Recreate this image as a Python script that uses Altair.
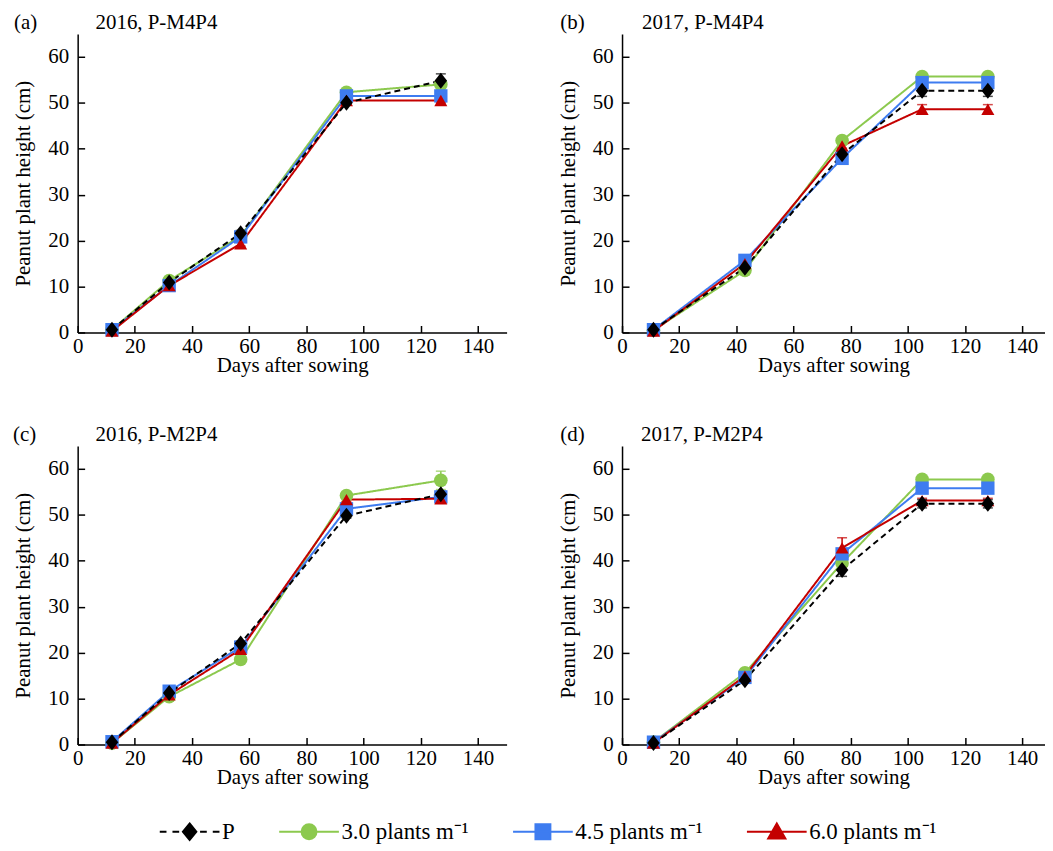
import altair as alt
import pandas as pd

FONT = "Liberation Serif"

# the en space before "P" reproduces the wider gap after the dashed legend symbol
SERIES = ["\u2002P", "3.0 plants m⁻¹", "4.5 plants m⁻¹", "6.0 plants m⁻¹"]
COLORS = ["#000000", "#8cc94e", "#3e7cf0", "#c40000"]
DRAW_ORDER = [1, 2, 3, 0]  # green, blue, red, then P on top

X_TICKS = [0, 20, 40, 60, 80, 100, 120, 140]
Y_TICKS = [0, 10, 20, 30, 40, 50, 60]

DAYS_2016 = [12, 32, 57, 94, 127]
DAYS_2017 = [11, 43, 77, 105, 128]

# (a) 2016, P-M4P4
A_P = [0.6, 10.9, 21.6, 50.0, 54.8]
A_G = [0.6, 11.3, 21.0, 52.3, 54.0]
A_B = [0.6, 10.2, 20.8, 51.5, 51.5]
A_R = [0.3, 10.2, 19.3, 50.5, 50.5]
A_P_ERR = [0.2, 0.4, 0.6, 0.5, 1.5]
A_G_ERR = [0.2, 0.4, 0.5, 0.5, 0.6]
A_B_ERR = [0.2, 0.4, 0.5, 0.5, 0.5]
A_R_ERR = [0.2, 0.4, 0.5, 0.5, 0.5]

# (b) 2017, P-M4P4
B_P = [0.6, 14.1, 38.8, 52.6, 52.6]
B_G = [0.5, 13.5, 41.8, 55.7, 55.7]
B_B = [0.6, 15.7, 37.9, 54.4, 54.4]
B_R = [0.3, 15.0, 40.6, 48.6, 48.6]
B_P_ERR = [0.2, 0.4, 0.6, 1.2, 1.2]
B_G_ERR = [0.2, 0.4, 0.5, 0.5, 0.5]
B_B_ERR = [0.2, 0.4, 0.5, 0.5, 0.5]
B_R_ERR = [0.2, 0.4, 0.5, 1.0, 1.0]

# (c) 2016, P-M2P4
C_P = [0.5, 11.2, 22.0, 49.8, 54.5]
C_G = [0.3, 10.4, 18.5, 54.2, 57.5]
C_B = [0.6, 11.6, 21.2, 51.3, 53.9]
C_R = [0.3, 10.8, 20.7, 53.3, 53.5]
C_P_ERR = [0.2, 0.4, 0.5, 0.5, 0.6]
C_G_ERR = [0.2, 0.4, 0.5, 0.6, 2.0]
C_B_ERR = [0.2, 0.4, 0.5, 0.5, 0.5]
C_R_ERR = [0.2, 0.4, 0.5, 0.5, 0.5]

# (d) 2017, P-M2P4
D_P = [0.3, 14.0, 38.0, 52.4, 52.4]
D_G = [0.5, 15.6, 39.5, 57.7, 57.7]
D_B = [0.5, 14.6, 41.5, 55.8, 55.8]
D_R = [0.3, 14.9, 42.8, 53.1, 53.1]
D_P_ERR = [0.2, 0.4, 1.4, 0.9, 0.9]
D_G_ERR = [0.2, 0.4, 0.6, 0.5, 0.5]
D_B_ERR = [0.2, 0.4, 0.6, 0.5, 0.5]
D_R_ERR = [0.2, 0.4, 2.2, 0.5, 0.5]

PANELS = {
    "a": ("(a)", "2016, P-M4P4", DAYS_2016, [A_P, A_G, A_B, A_R], [A_P_ERR, A_G_ERR, A_B_ERR, A_R_ERR]),
    "b": ("(b)", "2017, P-M4P4", DAYS_2017, [B_P, B_G, B_B, B_R], [B_P_ERR, B_G_ERR, B_B_ERR, B_R_ERR]),
    "c": ("(c)", "2016, P-M2P4", DAYS_2016, [C_P, C_G, C_B, C_R], [C_P_ERR, C_G_ERR, C_B_ERR, C_R_ERR]),
    "d": ("(d)", "2017, P-M2P4", DAYS_2017, [D_P, D_G, D_B, D_R], [D_P_ERR, D_G_ERR, D_B_ERR, D_R_ERR]),
}

DIAMOND = "M0,-1.15L0.9,0L0,1.15L-0.9,0Z"
color_scale = alt.Scale(domain=SERIES, range=COLORS)
shape_scale = alt.Scale(domain=SERIES, range=[DIAMOND, "circle", "square", "triangle-up"])
size_scale = alt.Scale(domain=SERIES, range=[196, 172, 220, 250])
dash_scale = alt.Scale(domain=SERIES, range=[[6, 4], [1, 0], [1, 0], [1, 0]])

# legend symbols: a line with the marker in the middle (custom SVG paths)
LEG_SHAPES = [
    "M-4,0H-3.1M-2.3,0H-1.4M1.4,0H2.3M3.1,0H4M0,-1.1L0.9,0L0,1.1L-0.9,0Z",
    "M-4,0H4M-1,0A1,1 0 1,0 1,0A1,1 0 1,0 -1,0Z",
    "M-4,0H4M-1,-1H1V1H-1Z",
    "M-4,0H4M0,-1.1L1.15,0.9L-1.15,0.9Z",
]
leg_shape_scale = alt.Scale(domain=SERIES, range=LEG_SHAPES)

FS = 21


def frame(key):
    letter, title, days, vals, errs = PANELS[key]
    rows = []
    for i in DRAW_ORDER:
        for d, v, e in zip(days, vals[i], errs[i]):
            rows.append({"series": SERIES[i], "day": d, "height": v, "lo": v - e, "hi": v + e})
    return pd.DataFrame(rows)


def axis_x():
    return alt.Axis(values=X_TICKS, title="Days after sowing", grid=False,
                    tickSize=alt.ExprRef(expr="-7"), tickWidth=1.5, tickColor="black",
                    domainColor="black", domainWidth=1.5,
                    labelFont=FONT, labelFontSize=FS, labelColor="black", labelPadding=10,
                    labelFlush=False, labelOverlap=False,
                    titleFont=FONT, titleFontSize=FS, titleFontWeight="normal",
                    titleColor="black", titlePadding=-2)


def axis_y():
    return alt.Axis(values=Y_TICKS, title="Peanut plant height (cm)", grid=False,
                    tickSize=alt.ExprRef(expr="-7"), tickWidth=1.5, tickColor="black",
                    domainColor="black", domainWidth=1.5,
                    labelFont=FONT, labelFontSize=FS, labelColor="black", labelPadding=16,
                    labelFlush=False, labelOverlap=False,
                    titleFont=FONT, titleFontSize=FS, titleFontWeight="normal",
                    titleColor="black", titlePadding=14)


def panel(key, width, xmax, letter_dx, title_dx, with_legend=False):
    letter, title, days, vals, errs = PANELS[key]
    df = frame(key)
    base = alt.Chart(df)
    xs = alt.Scale(domain=[0, xmax], nice=False, zero=False)
    ys = alt.Scale(domain=[0, 65], nice=False)
    x = alt.X("day:Q", scale=xs, axis=axis_x())
    color = alt.Color("series:N", scale=color_scale, legend=None)

    line = base.mark_line(strokeWidth=2).encode(
        x=x,
        y=alt.Y("height:Q", scale=ys, axis=axis_y()),
        color=color,
        strokeDash=alt.StrokeDash("series:N", scale=dash_scale, legend=None),
    )
    err = base.mark_errorbar(ticks={"size": 10, "thickness": 1.5}, thickness=1.5).encode(
        x=x,
        y=alt.Y("lo:Q", scale=ys, axis=axis_y()),
        y2="hi:Q",
        color=color,
    )
    pts = base.mark_point(filled=True, opacity=1).encode(
        x=x,
        y=alt.Y("height:Q", scale=ys, axis=axis_y()),
        color=color,
        shape=alt.Shape("series:N", scale=shape_scale, legend=None),
        size=alt.Size("series:N", scale=size_scale, legend=None),
    )
    lab = alt.Chart(pd.DataFrame({"t": [letter]})).mark_text(
        align="left", baseline="alphabetic", font=FONT, fontSize=FS, color="black"
    ).encode(x=alt.value(letter_dx), y=alt.value(-5), text="t:N")
    ttl = alt.Chart(pd.DataFrame({"t": [title]})).mark_text(
        align="left", baseline="alphabetic", font=FONT, fontSize=FS, color="black"
    ).encode(x=alt.value(title_dx), y=alt.value(-5), text="t:N")
    layers = [line, err, pts, lab, ttl]
    if with_legend:
        leg = alt.Legend(title=None, orient="none", legendX=101, legendY=376, direction="horizontal",
                         symbolSize=225, symbolStrokeWidth=2, symbolOpacity=1,
                         labelFont=FONT, labelFontSize=23, labelColor="black",
                         labelOffset=21, columnPadding=40)
        legend_layer = alt.Chart(pd.DataFrame({"series": SERIES})).mark_point(
            filled=True, opacity=0
        ).encode(
            fill=alt.Fill("series:N", scale=color_scale, legend=leg),
            stroke=alt.Stroke("series:N", scale=color_scale, legend=leg),
            shape=alt.Shape("series:N", scale=leg_shape_scale, legend=leg),
        )
        layers.append(legend_layer)
        return alt.layer(*layers).resolve_scale(
            shape="independent", fill="independent", stroke="independent"
        ).resolve_legend(
            shape="independent", fill="independent", stroke="independent"
        ).properties(width=width, height=300)
    return alt.layer(*layers).properties(width=width, height=300)


pa = panel("a", 431, 150, -64, 18)
pb = panel("b", 425, 148, -62, 20)
pc = panel("c", 431, 150, -65, 18, with_legend=True)
pd_ = panel("d", 425, 148, -62, 19)

chart = alt.concat(pa, pb, pc, pd_, columns=2, spacing={"row": 114, "column": 116},
                   bounds="flush").resolve_scale(
    x="independent", y="independent", shape="independent", size="independent",
    color="independent", strokeDash="independent", fill="independent", stroke="independent"
).resolve_legend(
    shape="independent", fill="independent", stroke="independent"
).properties(
    padding={"left": 5, "top": 2, "right": 0, "bottom": 0}
).configure_view(stroke=None)

chart.save("out.html", embed_options={"renderer": "svg", "actions": False})
